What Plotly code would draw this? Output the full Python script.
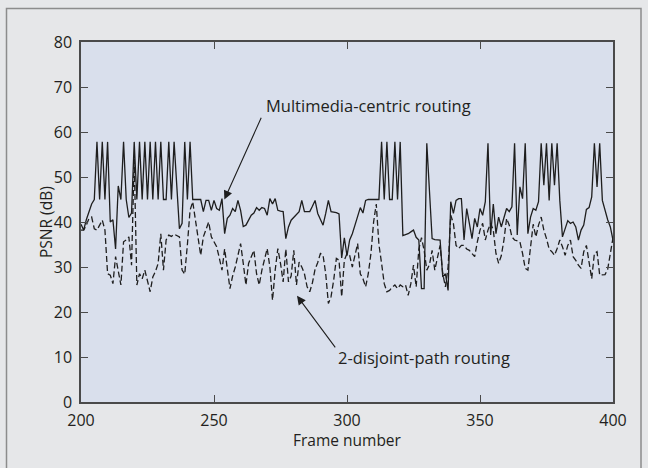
import plotly.graph_objects as go

# Multimedia-centric routing (solid)
frames_mc = [200,201,202,203,204,205,206,207,208,209,210,211,212,213,214,215,216,217,218,219,
             220,221,222,223,224,225,226,227,228,229,230,231,232,233,234,235,237,238,239,240,
             241,242,243,244,245,246,247,248,249,250,251,252,253,254,255,256,257,258,259,260,
             261,262,263,264,265,266,267,268,269,270,271,272,273,274,275,276,277,278,279,280,
             281,282,283,284,285,286,287,288,289,290,291,292,293,294,295,296,297,298,299,300,
             301,302,303,304,305,306,307,308,309,310,311,312,313,314,315,316,317,318,319,320,
             321,322,323,324,325,326,327,328,329,330,332,333,334,335,336,337,338,339,340,341,
             342,343,344,345,346,347,348,349,350,351,352,353,354,355,356,357,358,359,360,361,
             362,363,364,365,366,367,368,369,370,371,372,373,374,375,376,377,378,379,380,381,
             382,383,384,385,386,387,388,389,390,391,392,393,394,395,396,397,398,399,400]
psnr_mc = [39.5,38.2,40.5,42.5,44,45,57.8,45,57.8,45,57.8,40,40.5,34,48,45,57.8,45,41,42,
           57.8,45,57.8,45,57.8,45,57.8,45,57.8,45,57.8,45,45,57.8,45,57.8,38.5,39.7,57.8,45,
           57.8,45,45,45,45,42.3,44.8,44.8,42.6,44.8,43,42.6,45.2,37.4,40.8,41.5,43,42.3,44.8,42.6,
           39,39.3,40.4,41.5,42,43.2,42.6,43.2,43,41.5,45.2,44,45.2,42.6,42.4,42.3,36.3,38.9,40.4,41,
           41.5,42.3,44.8,42.3,42.3,42.3,43.5,44.8,41.9,40.5,39.3,41.9,44.8,42.3,42.2,42.1,41.8,32,36.5,32.5,
           36,37.4,39.3,41.5,43.2,42,44.8,45,45,45,45,45,57.8,45,57.8,45,45,57.8,45,57.8,
           37,37.2,37.4,37.8,38.2,36.6,36,25.2,25.2,57.5,36.3,36.1,36,36,27.8,28.5,24.8,44.5,41.9,44.8,
           45.2,45.2,36,43,39.7,36.3,40.8,38.9,43,41.5,44.5,57.5,37.1,44,37.4,41.1,38.9,41.1,43,42.3,
           43.4,57.5,37.1,47.8,45.2,57.5,37.4,41.1,43,42.6,44.5,57.5,48.2,57.5,44.8,57.5,48.2,57.5,44.8,36.7,
           38.5,40.3,39.7,40,38.9,36,38.2,39.3,42.8,43.2,45.6,57.5,47.8,57.5,44.8,42.3,40.5,38.9,36]

# 2-disjoint-path routing (dashed)
frames_dj = list(range(200, 401))
psnr_dj = [38.2,38.2,39.3,40.8,41.1,38.5,38.2,39.5,40.4,38.2,28.5,28.2,26.3,32.3,29.3,26,35.6,36,36.7,30.4,
           54,26,28.5,27.4,29.3,27,24.5,27.8,29,30.8,37.4,29.3,36,37.1,36.8,37.3,37,36.7,29.3,28.4,
           35,42.6,44.5,40.4,36.7,32.6,36.7,38.5,40,36.7,35.5,34.5,32,29.3,34,29.3,25.2,28,30,32.6,
           35.2,30.8,26,30.8,32.5,33.7,28.5,26,29.3,32,34.1,30,22.6,29.3,34.1,30.8,26.7,34,26.7,28,
           33.7,26,31.1,30,28.5,25.6,24.5,26.5,29.5,31,33,32.6,28.5,21.9,23.4,27.1,31.9,31.5,23.4,31.5,
           33,32.6,30,32.6,35.2,28.5,27.4,25.6,28.5,33,40,44,35,30.8,26.3,24.5,24.8,25.5,26,25.2,
           26,25.6,26,23.7,26.3,30.4,25.6,34,36.5,33.7,29.3,30.5,33.7,29.3,32,34.8,28.5,25.6,30,41.5,
           39.7,34.8,34.1,34.8,34.8,34,33.7,33,32.3,35.6,38.2,39.7,36,38.2,39.7,38.2,33,30.8,32.5,36,
           40.8,39.3,36.7,36,35.8,35.6,33,29.7,29.3,34.8,39.5,36.7,39.3,41.1,38.2,36.3,34,33.4,32.6,34.1,
           36,34.5,32.6,34.8,36,32.3,31.5,30.4,29.7,33.4,34.8,31.1,27.4,33,33.4,28.2,28.2,28.3,29.5,33,
           36.5]

x_ticks = [200, 250, 300, 350, 400]
y_ticks = [0, 10, 20, 30, 40, 50, 60, 70, 80]

W, H = 648, 468
ML, MR, MT, MB = 81, 35, 42, 66
PW, PH = W - ML - MR, H - MT - MB

FONT = "Open Sans"
INK = "#231f20"
AXC = "#4a4a4a"


def px_to_paper_x(px):
    return (px - ML) / PW


def px_to_paper_y(py):
    return (H - MB - py) / PH


fig = go.Figure()
fig.add_trace(go.Scatter(x=frames_mc, y=psnr_mc, mode="lines",
                         line=dict(color="#1e1e1e", width=1.3),
                         name="Multimedia-centric routing", showlegend=False))
fig.add_trace(go.Scatter(x=frames_dj, y=psnr_dj, mode="lines",
                         line=dict(color="#1e1e1e", width=1.3, dash="6px,3px"),
                         name="2-disjoint-path routing", showlegend=False))

# Text labels
fig.add_annotation(x=308, y=66, xref="x", yref="y", text="Multimedia-centric routing",
                   showarrow=False, font=dict(family=FONT, size=16.5, color=INK))
fig.add_annotation(x=329, y=10, xref="x", yref="y", text="2-disjoint-path routing",
                   showarrow=False, font=dict(family=FONT, size=16.5, color=INK))
# Arrows
fig.add_annotation(x=253.9, y=45, ax=268.0, ay=63.5, xref="x", yref="y", axref="x", ayref="y",
                   text="", showarrow=True, arrowhead=2, arrowsize=1.6, arrowwidth=1.1,
                   arrowcolor="#1e1e1e", standoff=0)
fig.add_annotation(x=281.2, y=23.6, ax=296.0, ay=11.8, xref="x", yref="y", axref="x", ayref="y",
                   text="", showarrow=True, arrowhead=2, arrowsize=1.6, arrowwidth=1.1,
                   arrowcolor="#1e1e1e", standoff=0)

# Axis titles
fig.add_annotation(x=0.5, y=px_to_paper_y(440), xref="paper", yref="paper",
                   text="Frame number", showarrow=False, xanchor="center", yanchor="middle",
                   font=dict(family=FONT, size=15.5, color=INK))
fig.add_annotation(x=px_to_paper_x(46), y=0.5, xref="paper", yref="paper",
                   text="PSNR (dB)", showarrow=False, textangle=-90, xanchor="center", yanchor="middle",
                   font=dict(family=FONT, size=15.5, color=INK))

# Outer frame border
fig.add_shape(type="rect", xref="paper", yref="paper",
              x0=px_to_paper_x(6.5), x1=px_to_paper_x(641), y0=px_to_paper_y(475), y1=px_to_paper_y(8.5),
              line=dict(color="#8c8c8c", width=1.5), fillcolor="rgba(0,0,0,0)", layer="below")

axis_common = dict(showline=True, linecolor=AXC, linewidth=1.5, mirror="ticks",
                   ticks="inside", ticklen=7, tickwidth=1.2, tickcolor=AXC,
                   showgrid=False, zeroline=False,
                   tickfont=dict(family=FONT, size=16, color=INK))

fig.update_xaxes(range=[200, 400], tickvals=x_ticks, ticktext=[str(v) for v in x_ticks],
                 ticklabelstandoff=3, **axis_common)
fig.update_yaxes(range=[0, 80], tickvals=y_ticks, ticktext=[str(v) for v in y_ticks],
                 ticklabelstandoff=4, **axis_common)

fig.update_layout(width=W, height=H, autosize=False,
                  margin=dict(l=ML, r=MR, t=MT, b=MB, pad=0),
                  paper_bgcolor="#e6e7e9", plot_bgcolor="#d9dfec",
                  font=dict(family=FONT, color=INK))

fig.write_html("out.html")
